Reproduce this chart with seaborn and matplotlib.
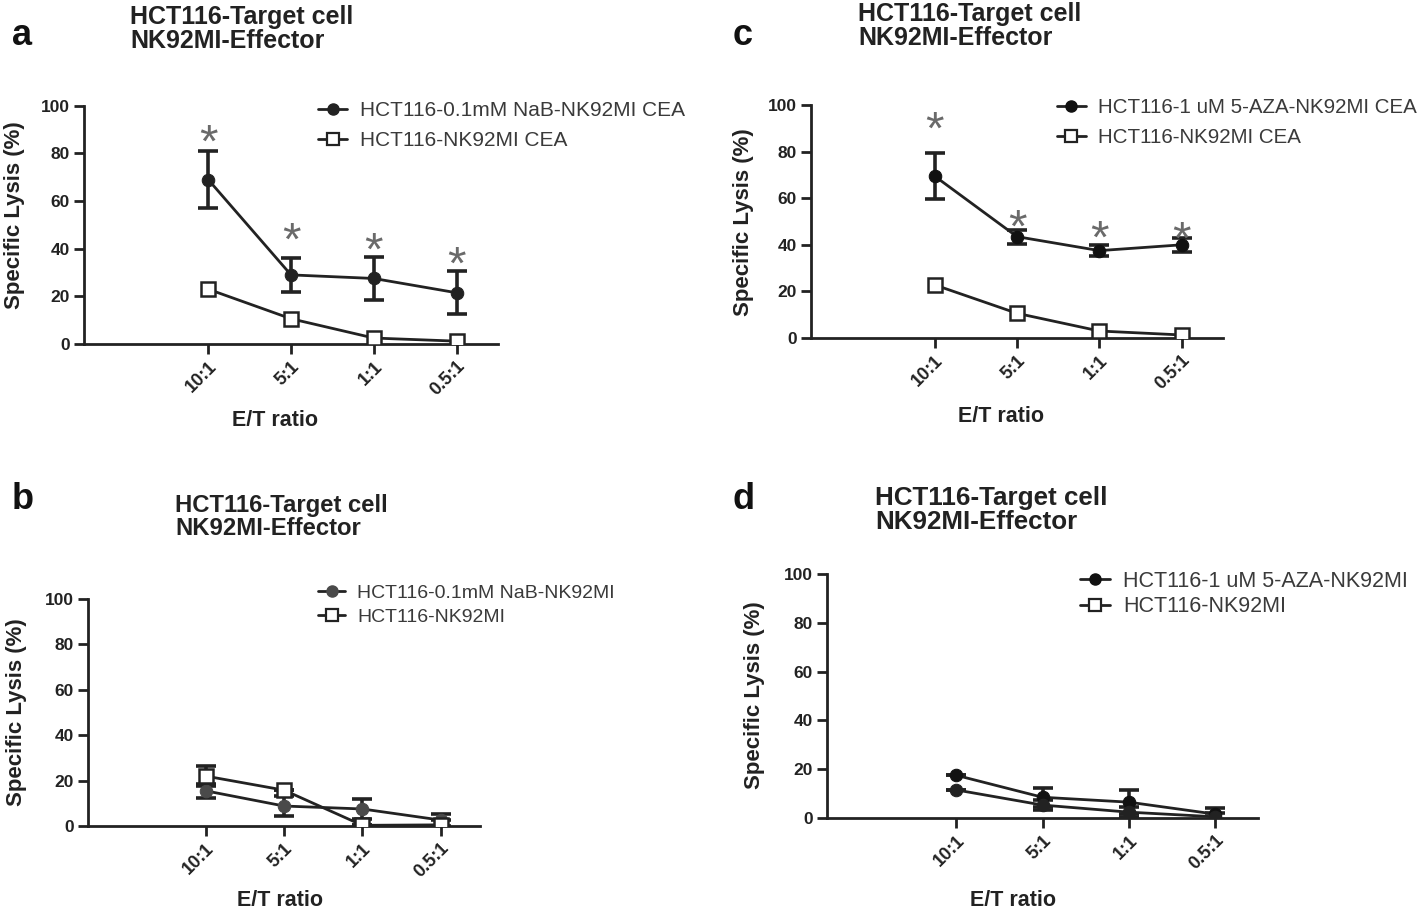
import numpy as np
import pandas as pd
import matplotlib
matplotlib.use("Agg")
import matplotlib.pyplot as plt
from matplotlib.lines import Line2D
import seaborn as sns

sns.set_theme(style="white")
plt.rcParams['font.family'] = ['Liberation Sans', 'DejaVu Sans']

# ---------------- data ----------------
ratios = ["10:1", "5:1", "1:1", "0.5:1"]

a_treat_label = "HCT116-0.1mM NaB-NK92MI CEA"
a_ctrl_label = "HCT116-NK92MI CEA"
a_treat = [69, 29, 27.5, 21.5]
a_treat_err = [12, 7, 9, 9]
a_ctrl = [23, 10.6, 2.5, 1.2]
a_ctrl_err = [0, 0, 0, 0]
a_star = [87, 46, 42, 36]

b_treat_label = "HCT116-0.1mM NaB-NK92MI"
b_ctrl_label = "HCT116-NK92MI"
b_treat = [15.5, 8.8, 7.5, 2.6]
b_treat_err = [3, 4.5, 4.5, 2.5]
b_ctrl = [22, 15.8, 0.3, 0.5]
b_ctrl_err = [4.5, 0, 0, 2]

c_treat_label = "HCT116-1 uM 5-AZA-NK92MI CEA"
c_ctrl_label = "HCT116-NK92MI CEA"
c_treat = [69.5, 43.5, 37.5, 40]
c_treat_err = [10, 3, 2.5, 3]
c_ctrl = [22.8, 10.6, 3, 1.3]
c_ctrl_err = [0, 0, 0, 0]
c_star = [92, 50, 45.5, 45]

d_treat_label = "HCT116-1 uM 5-AZA-NK92MI"
d_ctrl_label = "HCT116-NK92MI"
d_treat = [17.5, 8.5, 6.5, 1.6]
d_treat_err = [0, 4, 5, 2.5]
d_ctrl = [11.5, 5.3, 2.4, 0.5]
d_ctrl_err = [0, 2, 2, 1.5]

title_text = "HCT116-Target cell\nNK92MI-Effector"

W, H = 1418, 911
fig = plt.figure(figsize=(W / 100, H / 100), dpi=100)


def box(l, r, t, b):
    return [l / W, 1 - b / H, (r - l) / W, (b - t) / H]


def fx(x):
    return x / W


def fy(y):
    return 1 - y / H


LINE = "#222222"
STAR_FS = 34


def panel(rect, treat, terr, ctrl, cerr, tl, cl, stars, treat_color,
          leg_xy, leg_fs, leg_ls, xlab_px, ylab_px, ctrl_filled=False):
    ax = fig.add_axes(rect)
    xs = np.arange(len(ratios))
    df = pd.DataFrame({"pos": np.concatenate([xs, xs]),
                       "val": treat + ctrl,
                       "grp": [tl] * 4 + [cl] * 4})
    # error bars
    ax.errorbar(xs, treat, yerr=terr, fmt="none", ecolor=LINE,
                elinewidth=2.6, capsize=7, capthick=2.6, zorder=2)
    if any(e > 0 for e in cerr):
        ax.errorbar(xs, ctrl, yerr=cerr, fmt="none", ecolor=LINE,
                    elinewidth=2.6, capsize=7, capthick=2.6, zorder=2)
    sns.lineplot(data=df[df.grp == tl], x="pos", y="val", ax=ax, color=LINE,
                 lw=2, marker="o", markersize=9, markeredgecolor=treat_color,
                 markerfacecolor=treat_color, legend=False, zorder=3)
    if ctrl_filled:
        sns.lineplot(data=df[df.grp == cl], x="pos", y="val", ax=ax, color=LINE,
                     lw=2, marker="o", markersize=9, markeredgecolor=LINE,
                     markerfacecolor=LINE, legend=False, zorder=3)
    else:
        sns.lineplot(data=df[df.grp == cl], x="pos", y="val", ax=ax, color=LINE,
                     lw=2, marker="s", markersize=9.5, markeredgecolor=LINE,
                     markeredgewidth=1.8, markerfacecolor="white", legend=False, zorder=4)
    if stars is not None:
        for x, s in zip(xs, stars):
            ax.annotate("*", (x, s), xytext=(0, -0.43 * STAR_FS), textcoords="offset points",
                        ha="center", va="baseline", fontsize=STAR_FS,
                        color="#6a6a6a", zorder=5)
    ax.set_xlim(-1.5, 3.5)
    ax.set_ylim(0, 100)
    ax.set_yticks([0, 20, 40, 60, 80, 100])
    ax.set_xticks(xs)
    ax.set_xticklabels(ratios, rotation=45, ha="right", rotation_mode="anchor",
                       fontweight="bold", fontsize=13, color="#222222")
    for t in ax.get_yticklabels():
        t.set_fontweight("bold")
        t.set_fontsize(12.5)
        t.set_color("#222222")
    ax.tick_params(axis="both", direction="out", length=7, width=2, color=LINE,
                   bottom=True, left=True, pad=3)
    ax.set_xlabel("")
    ax.set_ylabel("")
    for side in ["top", "right"]:
        ax.spines[side].set_visible(False)
    for side in ["left", "bottom"]:
        ax.spines[side].set_linewidth(2)
        ax.spines[side].set_color(LINE)
    ax.patch.set_alpha(0)
    # labels
    fig.text(fx(xlab_px[0]), fy(xlab_px[1]), "E/T ratio", ha="center", va="center",
             fontweight="bold", fontsize=15.5, color="#222222")
    fig.text(fx(ylab_px[0]), fy(ylab_px[1]), "Specific Lysis (%)", ha="center",
             va="center", rotation=90, fontweight="bold", fontsize=16,
             color="#222222")
    # legend
    h1 = Line2D([], [], color=LINE, lw=2, marker="o", markersize=8,
                markerfacecolor=treat_color, markeredgecolor=treat_color)
    h2 = Line2D([], [], color=LINE, lw=2, marker="s", markersize=8,
                markerfacecolor="white", markeredgecolor=LINE, markeredgewidth=1.6)
    leg = ax.legend([h1, h2], [tl, cl], loc="upper left",
                    bbox_to_anchor=(fx(leg_xy[0]), fy(leg_xy[1])),
                    bbox_transform=fig.transFigure, frameon=False,
                    fontsize=leg_fs, handlelength=1.4, handletextpad=0.6,
                    labelspacing=leg_ls, borderpad=0, borderaxespad=0)
    for t in leg.get_texts():
        t.set_color("#3a3a3a")
    return ax


panel(box(84, 498, 105.7, 344), a_treat, a_treat_err, a_ctrl, a_ctrl_err,
      a_treat_label, a_ctrl_label, a_star, LINE,
      leg_xy=(318, 101), leg_fs=15, leg_ls=0.54, xlab_px=(275, 421), ylab_px=(15, 215))
panel(box(88, 480, 599, 826), b_treat, b_treat_err, b_ctrl, b_ctrl_err,
      b_treat_label, b_ctrl_label, None, "#4a4a4a",
      leg_xy=(318, 584), leg_fs=14, leg_ls=0.35, xlab_px=(280, 900), ylab_px=(17, 712))
panel(box(811, 1223, 105, 338), c_treat, c_treat_err, c_ctrl, c_ctrl_err,
      c_treat_label, c_ctrl_label, c_star, "#111111",
      leg_xy=(1057, 98), leg_fs=14.8, leg_ls=0.55, xlab_px=(1001, 416), ylab_px=(743, 222))
panel(box(827, 1258, 574, 818), d_treat, d_treat_err, d_ctrl, d_ctrl_err,
      d_treat_label, d_ctrl_label, None, "#111111",
      leg_xy=(1080, 571), leg_fs=15.5, leg_ls=0.2, xlab_px=(1013, 900), ylab_px=(755, 695),
      ctrl_filled=True)

# titles and panel letters
for (x, y, letter, tx, ty, tfs) in [(12, 18, "a", 130, 5, 18), (12, 482, "b", 175, 494, 17.2),
                                    (733, 18, "c", 858, 2, 18), (733, 482, "d", 875, 486, 18.7)]:
    fig.text(fx(x), fy(y), letter, ha="left", va="top", fontsize=26,
             fontweight="bold", color="#111111")
    fig.text(fx(tx), fy(ty), title_text, ha="left", va="top", fontsize=tfs,
             fontweight="bold", color="#222222", linespacing=1.0)

fig.savefig("out.png", dpi=100)
